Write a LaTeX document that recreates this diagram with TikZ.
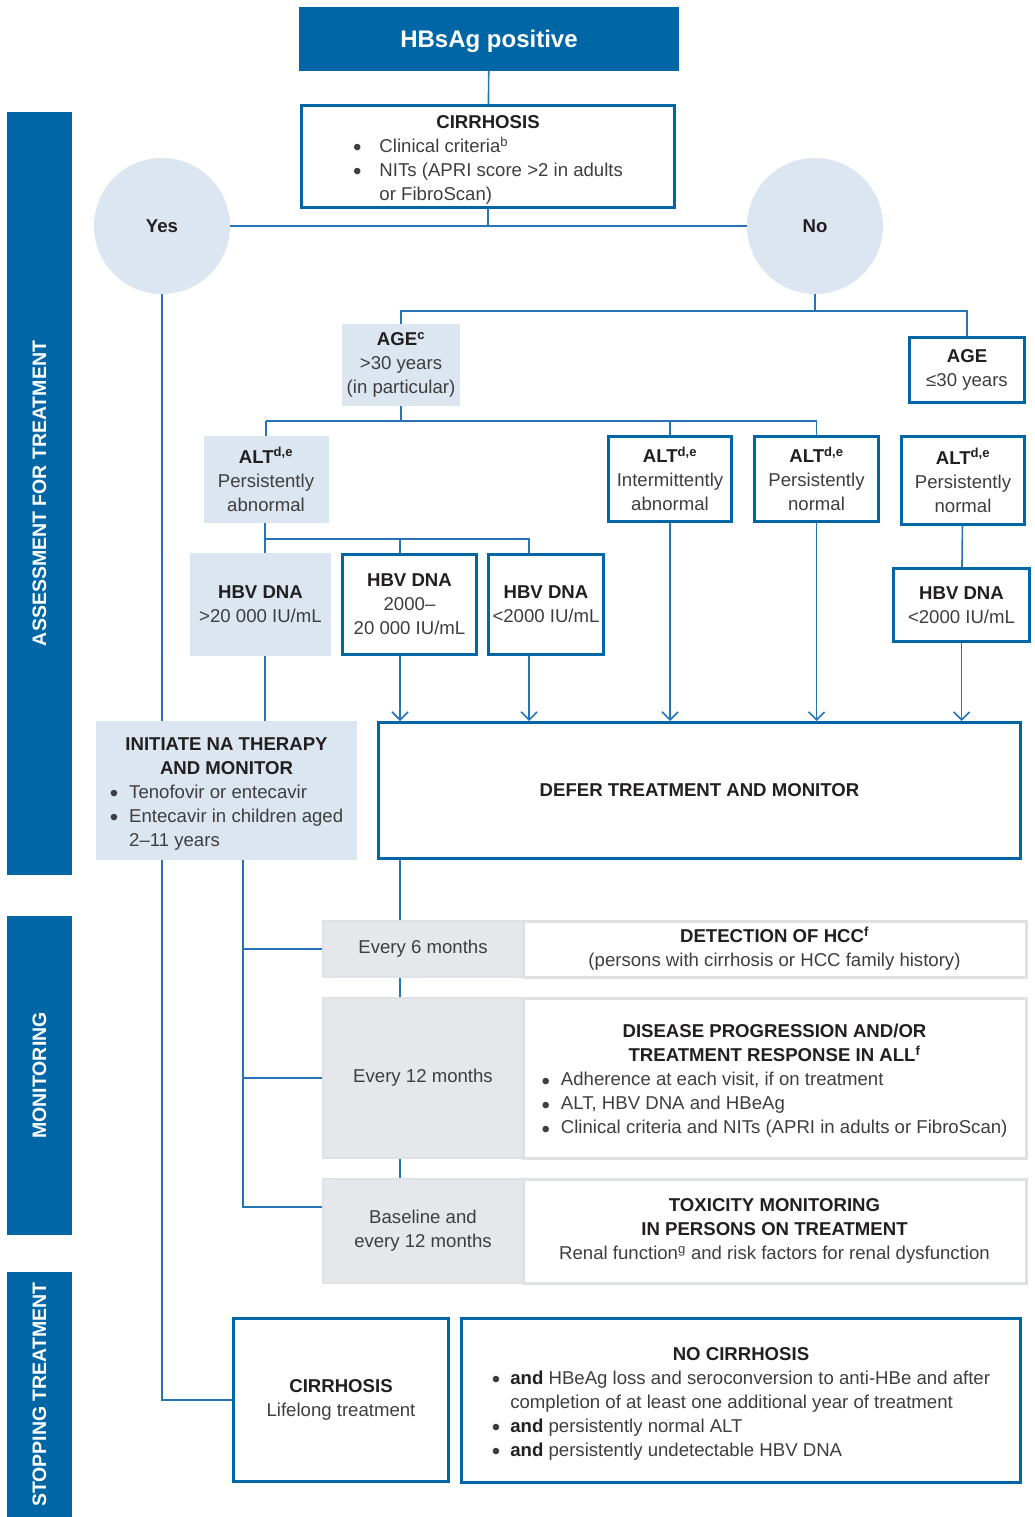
\documentclass[tikz,border=0pt]{standalone}
\usepackage{fontspec}
\setmainfont{Liberation Sans}
\usetikzlibrary{arrows.meta}
\definecolor{whoblue}{RGB}{0,102,166}
\definecolor{wireblue}{RGB}{38,116,181}
\definecolor{paleblue}{RGB}{220,230,241}
\definecolor{palegrey}{RGB}{229,231,234}
\definecolor{edgegrey}{RGB}{222,225,229}
\definecolor{inkgrey}{RGB}{62,62,62}
\definecolor{inkdark}{RGB}{35,31,32}
\newcommand{\hd}[1]{{\color{inkdark}\bfseries #1}}
\newcommand{\sups}[1]{\textsuperscript{#1}}
\newcommand{\bodyfont}{\fontsize{18.6}{24}\selectfont}
\newcommand{\dotmark}{\raisebox{-3.5pt}{\fontsize{24}{24}\selectfont\textbullet}}
\newcommand{\topgap}{\rule{0pt}{23pt}}
\tikzset{
  rimbox/.style={draw=whoblue, line width=3pt, fill=white, inner sep=0pt, align=center},
  tintbox/.style={fill=paleblue, inner sep=0pt, align=center},
  greybox/.style={fill=palegrey, draw=edgegrey, line width=2pt, inner sep=0pt, align=center},
  notebox/.style={fill=white, draw=edgegrey, line width=3pt, inner sep=0pt, align=center},
  bubble/.style={circle, fill=paleblue, minimum size=136pt, inner sep=0pt, font=\bodyfont\bfseries, text=inkdark},
  sidebar/.style={fill=whoblue, text=white, rotate=90, inner sep=0pt, minimum height=65pt, font=\fontsize{19.5}{24}\selectfont\bfseries},
  wire/.style={draw=wireblue, line width=1.6pt},
  into/.style={wire, -{Straight Barb[length=8pt,width=16pt]}},
}
\begin{document}
\begin{tikzpicture}[x=1pt, y=-1pt, font=\bodyfont, text=inkgrey]
\useasboundingbox (0,0) rectangle (1035,1517);

% side bars
\node[sidebar, minimum width=763pt] (barassess) at (39.5,493.5) {ASSESSMENT FOR TREATMENT};
\node[sidebar, minimum width=319pt] (barmonitor) at (39.5,1075.5) {MONITORING};
\node[sidebar, minimum width=245pt] (barstop) at (39.5,1394.5) {STOPPING TREATMENT};

% assessment
\node[fill=whoblue, text=white, minimum width=380pt, minimum height=64pt, text height=17.2pt, text depth=0pt,
  font=\fontsize{24}{28}\selectfont\bfseries] (title) at (489,39) {HBsAg positive};
\node[rimbox, minimum width=373pt, minimum height=100pt] (cirr) at (488,156.5) {\topgap\hd{CIRRHOSIS}\\
  \begin{tabular}[t]{@{}l@{\hspace{18pt}}l@{}}
  \dotmark & Clinical criteria\sups{b}\\
  \dotmark & NITs (APRI score >2 in adults\\
  & or FibroScan)
  \end{tabular}};
\node[bubble] (yes) at (162,226) {Yes};
\node[bubble] (no) at (815,226) {No};

\node[tintbox, minimum width=118pt, minimum height=82pt] (age30) at (401,365) {\hd{AGE\sups{c}}\\ >30 years\\ (in particular)};
\node[rimbox, minimum width=115pt, minimum height=65pt] (age30le) at (967,370) {\hd{AGE}\\ ≤30 years};

\node[tintbox, minimum width=125pt, minimum height=87pt] (altab) at (266,479.5) {\hd{ALT\sups{d,e}}\\ Persistently\\ abnormal};
\node[rimbox, minimum width=123pt, minimum height=85pt] (altint) at (670,479) {\hd{ALT\sups{d,e}}\\ Intermittently\\ abnormal};
\node[rimbox, minimum width=124pt, minimum height=85pt] (altnorm) at (816.5,479) {\hd{ALT\sups{d,e}}\\ Persistently\\ normal};
\node[rimbox, minimum width=123pt, minimum height=88pt] (altnorm2) at (963,480.5) {\hd{ALT\sups{d,e}}\\ Persistently\\ normal};

\node[tintbox, minimum width=141pt, minimum height=103pt] (dnahi) at (260.5,604.5) {\hd{HBV DNA}\\ >20 000 IU/mL};
\node[rimbox, minimum width=134pt, minimum height=100pt] (dnamid) at (409.5,604.5) {\hd{HBV DNA}\\ 2000–\\ 20 000 IU/mL};
\node[rimbox, minimum width=115pt, minimum height=100pt] (dnalo) at (546,604.5) {\hd{HBV DNA}\\ <2000 IU/mL};
\node[rimbox, minimum width=136pt, minimum height=73pt] (dnalo2) at (961.5,605) {\hd{HBV DNA}\\ <2000 IU/mL};

\node[tintbox, minimum width=261pt, minimum height=139pt] (initiate) at (226.5,790.5) {\topgap\hd{INITIATE NA THERAPY}\\ \hd{AND MONITOR}\\
  \begin{tabular}[t]{@{}l@{\hspace{11pt}}l@{}}
  \dotmark & Tenofovir or entecavir\\
  \dotmark & Entecavir in children aged\\
  & 2–11 years
  \end{tabular}};
\node[rimbox, minimum width=642pt, minimum height=136pt] (defer) at (699.5,790.5) {\hd{DEFER TREATMENT AND MONITOR}};

% monitoring
\node[greybox, minimum width=200pt, minimum height=56pt] (mon1l) at (423,949) {Every 6 months};
\node[notebox, minimum width=503pt, minimum height=56pt] (mon1r) at (774.5,949) {\hd{DETECTION OF HCC\sups{f}}\\ (persons with cirrhosis or HCC family history)};
\node[greybox, minimum width=200pt, minimum height=160pt] (mon2l) at (423,1078) {Every 12 months};
\node[notebox, minimum width=503pt, minimum height=160pt] (mon2r) at (774.5,1078) {\topgap\hd{DISEASE PROGRESSION AND/OR}\\ \hd{TREATMENT RESPONSE IN ALL\sups{f}}\\
  \begin{tabular}[t]{@{}l@{\hspace{11pt}}l@{}}
  \dotmark & Adherence at each visit, if on treatment\\
  \dotmark & ALT, HBV DNA and HBeAg\\
  \dotmark & Clinical criteria and NITs (APRI in adults or FibroScan)
  \end{tabular}};
\node[greybox, minimum width=200pt, minimum height=104pt] (mon3l) at (423,1231) {Baseline and\\ every 12 months};
\node[notebox, minimum width=503pt, minimum height=104pt] (mon3r) at (774.5,1231) {\hd{TOXICITY MONITORING}\\ \hd{IN PERSONS ON TREATMENT}\\ Renal function\sups{g} and risk factors for renal dysfunction};

% stopping
\node[rimbox, minimum width=215pt, minimum height=163pt] (stopcirr) at (341,1400) {\hd{CIRRHOSIS}\\ Lifelong treatment};
\node[rimbox, minimum width=559pt, minimum height=164pt] (stopno) at (741,1400.5) {\topgap\hd{NO CIRRHOSIS}\\
  \begin{tabular}[t]{@{}l@{\hspace{10pt}}l@{}}
  \dotmark & \hd{and} HBeAg loss and seroconversion to anti-HBe and after\\
  & completion of at least one additional year of treatment\\
  \dotmark & \hd{and} persistently normal ALT\\
  \dotmark & \hd{and} persistently undetectable HBV DNA
  \end{tabular}};

% columns and buses
\coordinate (colA) at (265,0);
\coordinate (colT) at (243,0);
\coordinate (colB) at (400,0);
\coordinate (colC) at (529,0);
\coordinate (nobus) at (815,311);
\coordinate (agebus) at (401,421);
\coordinate (altbus) at (265,539);

\draw[wire] (title) -- (cirr);
\draw[wire] (yes) -- (no);
\draw[wire] (cirr.south) -- (cirr.south |- yes);
\draw[wire] (no) -- (nobus);
\draw[wire] (age30.north) |- (nobus) -| (age30le.north);
\draw[wire] (age30.south) -- (agebus);
\draw[wire] (altab.north |- agebus) -| (altnorm.north);
\draw[wire] (altab.north |- agebus) -- (altab.north);
\draw[wire] (altint.north |- agebus) -- (altint.north);
\draw[wire] (altnorm2) -- (dnalo2);
\draw[wire] (colA |- altab.south) -- (colA |- dnahi.north);
\draw[wire] (altbus) -| (colC |- dnalo.north);
\draw[wire] (colB |- altbus) -- (colB |- dnamid.north);
\draw[wire] (colA |- dnahi.south) -- (colA |- initiate.north);

\draw[into] (colB |- dnamid.south) -- (colB |- defer.north);
\draw[into] (colC |- dnalo.south) -- (colC |- defer.north);
\draw[into] (altint) -- (altint |- defer.north);
\draw[into] (altnorm) -- (altnorm |- defer.north);
\draw[into] (dnalo2) -- (dnalo2 |- defer.north);

\draw[wire] (yes) -- (yes |- initiate.north);
\draw[wire] (yes |- initiate.south) |- (stopcirr.west);
\draw[wire] (colT |- initiate.south) |- ([yshift=24pt]mon3l.west);
\draw[wire] (colT |- mon1l.west) -- (mon1l.west);
\draw[wire] (colT |- mon2l.west) -- (mon2l.west);
\draw[wire] (colB |- defer.south) -- (colB |- mon1l.north);
\draw[wire] (colB |- mon1l.south) -- (colB |- mon2l.north);
\draw[wire] (colB |- mon2l.south) -- (colB |- mon3l.north);
\end{tikzpicture}
\end{document}
